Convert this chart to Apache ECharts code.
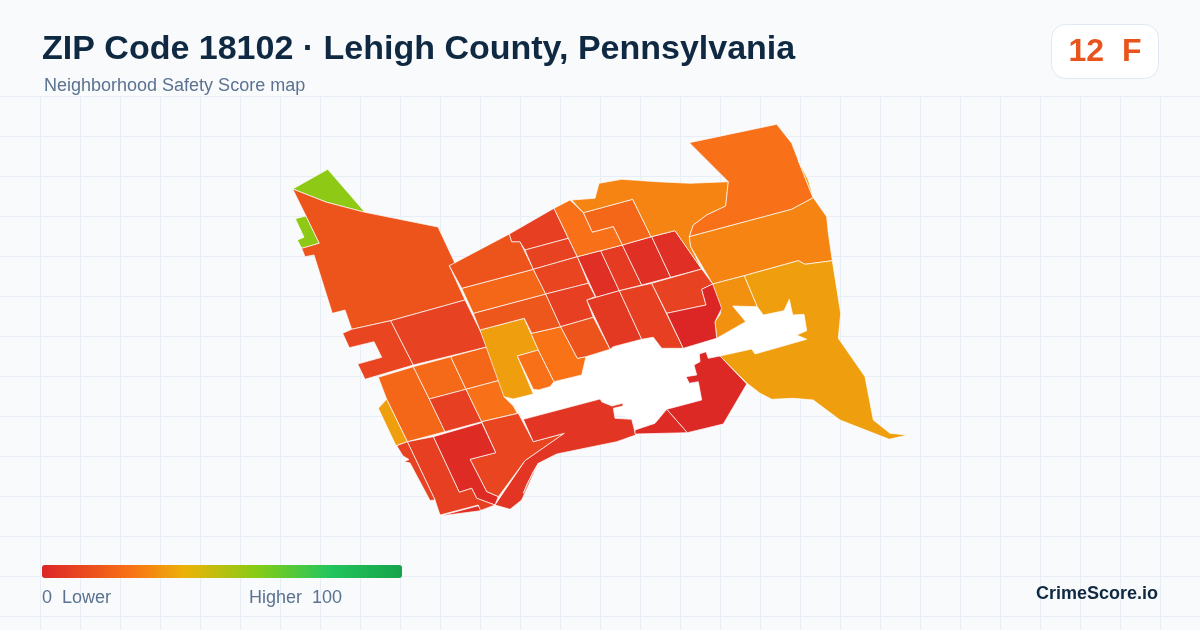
<!DOCTYPE html>
<html>
<head>
<meta charset="utf-8">
<style>html,body{margin:0;padding:0;background:#f8fafc}#chart{width:1200px;height:630px}</style>
<script src="https://cdn.jsdelivr.net/npm/echarts@6/dist/echarts.min.js"></script>
</head>
<body>
<div id="chart"></div>
<script>
// block group names, scores and outlines (outline units = picture pixels)
var tractNames = ['gap', 'n1', 'n2', 'a', 'b', 'c', 'd', 'e', 'f', 'g', 'h', 'i', 'j', 'k', 'l', 'm', 'n', 'p', 'q', 'r', 's', 't', 'u', 'v', 'w', 'x', 'y', 'z', 'aa', 'ab', 'ac', 'ad', 'ae', 'af', 'ag', 'ah', 'ah2', 'ai', 'aj', 'ak', 'al', 'am', 'ao', 'ap', 'ar', 'as', 'av', 'aw'];
var tractScores = [null, 58, 58, 15, 10, 9, 21, 22, 35, 21, 8, 24, 10, 2, 8, 9, 3, 5, 22, 35, 24, 25, 16, 21, 15, 8, 9, 10, 3, 7, 3, 3, 21, 29, 24, 24, 35, 29, 32, 35, 1, 2, 6, 8, 9, 0, 8, 15];
var tractOutlines = [
  [503.3,396.7, 513.3,398, 533.3,394, 538.3,390, 550,386.7, 554,381.7, 581.7,375, 586,356.7, 610,349.3, 613.3,346.7, 653.3,337.3, 661.7,348.3, 683.3,348.3, 716.7,338.3, 745.7,321.7, 732.7,306, 757.3,306.7, 763.3,315, 784,310.7, 789.3,299.3, 792.7,315, 804,314.3, 806.7,330.7, 796.7,335, 806.7,339.3, 755,354, 751.7,349, 720,356, 708.3,358.3, 706,351.7, 699.3,354, 700,361.7, 694,365, 696.7,375, 686,376.7, 689.3,383.3, 698.3,381.7, 701.7,400, 666.7,409.3, 655,423.3, 635,430, 631.7,418.3, 613.3,411, 621.7,404, 611.7,406, 600,399, 523.3,419.3, 515,403.3, 503.3,401],
  [292.7,189, 327.7,169.3, 365,212.3, 326.7,202.3],
  [295.3,218.7, 306,216, 319.3,243.3, 301.7,248.3, 297.3,240, 304,237.3],
  [292.7,189, 326.7,202.3, 365,212.3, 438,227, 455,263.3, 449.3,265.7, 465,300, 390.7,320.7, 351.7,329.3, 345,310, 332.3,313.3, 314,255, 305,256.7, 301.7,248.3, 319.3,243.3, 306,216],
  [390.7,320.7, 413.3,365, 365,379.3, 357.7,364, 381.7,357.3, 374,341.7, 349.3,347.7, 342.7,333.3, 351.7,329.3],
  [390.7,320.7, 465,300, 488,346.7, 413.3,365],
  [378.3,377.3, 413.3,366.7, 429.3,399, 445,431.7, 407.3,441.7, 386.7,399.3],
  [413.3,366.7, 450.7,356.7, 466,389.3, 429.3,399],
  [386.7,399.3, 378.3,408.3, 396,445.7, 407.3,441.7],
  [450.7,356.7, 488,346.7, 503.3,379.3, 466,389.3],
  [429.3,399, 466,389.3, 481.7,421.7, 445,431.7],
  [466,389.3, 503.3,379.3, 504,396.7, 513.3,406, 517.3,413.3, 481.7,421.7],
  [481.7,421.7, 518.3,413.3, 533.3,441.7, 564.3,433.3, 525,460.7, 498.3,496.7, 486.7,491.7, 470,459.3, 495.7,452.7],
  [433.3,436.7, 481.7,422.7, 495.7,452.7, 470,459.3, 486.7,491.7, 498.3,496.7, 495,505, 476.7,498.3, 471.7,488.3, 459.3,492.3],
  [407.3,441.7, 433.3,436.7, 459.3,492.3, 471.7,488.3, 476.7,498.3, 495,505, 480,510.7, 478.3,505, 440,515, 435,500],
  [396.7,445.7, 407.3,441.7, 435,500, 430,500.5, 410,463, 404,461.5, 409,459.5, 403,456],
  [440,516, 478.3,505.7, 480.7,510.7],
  [523.3,419.3, 600,399, 602,402, 612,406, 622.7,403.3, 623,406, 613.3,408.3, 615,418.3, 631.7,419.3, 635.7,435, 616.7,441.7, 556.7,454, 538.3,463.3, 521.7,500, 510,509.3, 495,505, 525,460.7, 564.3,433.3, 533.3,441.7],
  [538.3,463.3, 533,472, 523.3,493.3, 527,484],
  [480,330, 524.3,318.3, 538.3,350, 517.3,356, 533.3,394, 513.3,399, 504,396.7],
  [517.3,356, 538.3,350, 554,381.7, 550,386.7, 538.3,390, 533.3,389.3],
  [524.3,318.3, 531.7,333.3, 560.7,326.7, 577.3,358.3, 586,356.7, 581.7,375, 554,381.7, 538.3,350],
  [473.3,313.3, 545.7,294, 560.7,326.7, 531.7,333.3, 524.3,318.3, 480,330],
  [461.7,288.3, 533.3,269.3, 545.7,294, 473.3,313.3],
  [449.3,265.7, 509.3,234, 511.7,241.7, 520,241.7, 533.3,269.3, 461.7,288.3],
  [509.3,234, 554,208.3, 568.3,238.3, 525,250, 520,241.7, 511.7,241.7],
  [525,250, 568.3,238.3, 577.3,256.7, 533.3,269.3],
  [533.3,269.3, 577.3,256.7, 588.3,283.3, 545.7,294],
  [577.3,256.7, 600.7,250.7, 619.3,290.7, 596,297.3],
  [600.7,250.7, 622.3,245, 641.7,285, 619.3,290.7],
  [622.3,245, 651.7,236.7, 670.7,277.3, 641.7,285],
  [651.7,236.7, 675,230.7, 701.7,269, 670.7,277.3],
  [583.3,212.7, 632.7,199.3, 651,236.7, 622.3,245, 613.3,226.7, 592.3,232.3],
  [571.7,200, 595,198.3, 599,183.3, 621.7,179.3, 656.7,181.7, 690,183.3, 728.3,181.7, 725.7,206, 706.7,215, 693.3,225, 689.3,236.7, 690.7,246.7, 701.7,269, 675,230.7, 651,236.7, 632.7,199.3, 583.3,212.7],
  [554,208.3, 570,200, 583.3,212.7, 592.3,232.3, 613.3,226.7, 622.3,245, 577.3,256.7],
  [689.3,142.7, 776.7,124.3, 791.7,143.3, 798.5,161, 810,190, 813.3,197.7, 791.7,209.3, 689.3,236.7, 693.3,225, 706.7,215, 725.7,206, 728.3,181.7],
  [798.5,161, 808.3,180, 813.3,197.7, 810,190],
  [689.3,236.7, 791.7,209.3, 813.3,197.7, 826.7,216.7, 828.3,233, 832.3,260.7, 805,264.3, 798.3,260.7, 744.3,275.7, 712.7,284, 690.7,246.7],
  [712.7,284, 744.3,275.7, 757.3,306.7, 732.7,306, 745.7,321.7, 716.7,338.3, 715,321.7, 720.7,313.3],
  [744.3,275.7, 798.3,260.7, 805,264.3, 832.3,260.7, 840.7,313.3, 838.3,338.3, 865,376.7, 873.3,420, 890,433.3, 907.3,435, 889.3,439.3, 840,420, 813.3,400, 793.3,398.3, 771.7,399.3, 760,393.3, 746.7,383, 720,356, 751.7,349, 755,354, 806.7,339.3, 796.7,335, 806.7,330.7, 804,314.3, 792.7,315, 789.3,299.3, 784,310.7, 763.3,315, 757.3,306.7],
  [720,356, 708.3,358.3, 706,351.7, 699.3,354, 700,361.7, 694,365, 696.7,375, 686,376.7, 689.3,383.3, 698.3,381.7, 701.7,400, 666.7,409.3, 687.3,432.7, 723.3,424, 746.7,384],
  [666.7,409.3, 687.3,432.7, 635,434, 635,430, 655,423.3],
  [586.7,300, 619.3,290.7, 641.7,339.3, 613.3,346.7, 610,349.3],
  [619.3,290.7, 651.7,283.3, 683.3,348.3, 661.7,348.3, 653.3,337.3, 641.7,339.3],
  [651.7,283.3, 701.7,269, 712.7,284, 701.7,289.3, 706,305, 666.7,313.3],
  [666.7,313.3, 706,305, 701.7,289.3, 712.7,284, 721.7,308.3, 715,321.7, 716.7,338.3, 683.3,348.3],
  [545.7,294, 588.3,283.3, 595.3,296.7, 586.7,300, 593.3,317.3, 560.7,326.7],
  [560.7,326.7, 593.3,317.3, 610,349.3, 586,356.7, 577.3,358.3]
];

// colour ramp of the legend
var rampStops = [0, 25, 40, 60, 80, 100];
var rampColors = ['#dc2626', '#f97316', '#eab308', '#84cc16', '#22c55e', '#16a34a'];

var titleText = 'ZIP Code 18102 \u00b7 Lehigh County, Pennsylvania';
var subtitleText = 'Neighborhood Safety Score map';
var badgeScore = '12  F';
var legendLow = '0  Lower';
var legendHigh = 'Higher  100';
var brandText = 'CrimeScore.io';

// visualMap spaces its colours evenly, so resample the ramp every 5 points
var ramp = [];
for (var v = 0; v <= 100; v += 5) {
    var k = 0;
    while (k < rampStops.length - 2 && v > rampStops[k + 1]) k++;
    var t = (v - rampStops[k]) / (rampStops[k + 1] - rampStops[k]);
    ramp.push(echarts.color.lerp(t, [rampColors[k], rampColors[k + 1]]));
}

var features = tractNames.map(function (name, i) {
    var ring = [], flat = tractOutlines[i];
    for (var j = 0; j < flat.length; j += 2) ring.push([flat[j], flat[j + 1]]);
    ring.push(ring[0]);
    return { type: 'Feature', properties: { name: name }, geometry: { type: 'Polygon', coordinates: [ring] } };
});
echarts.registerMap('zip18102', { type: 'FeatureCollection', features: features });

var seriesData = tractNames.map(function (name, i) {
    return tractScores[i] === null ? { name: name } : { name: name, value: tractScores[i] };
});

// faint background grid
var bgLines = [];
for (var x = 40.5; x < 1200; x += 40) {
    bgLines.push({ type: 'line', silent: true, z: 0, shape: { x1: x, y1: 96, x2: x, y2: 630 }, style: { stroke: '#e8eef5', lineWidth: 1 } });
}
for (var y = 96.5; y < 630; y += 40) {
    bgLines.push({ type: 'line', silent: true, z: 0, shape: { x1: 0, y1: y, x2: 1200, y2: y }, style: { stroke: '#e8eef5', lineWidth: 1 } });
}

var chart = echarts.init(document.getElementById('chart'));
chart.setOption({
    animation: false,
    backgroundColor: '#f8fafc',
    textStyle: { fontFamily: 'Liberation Sans' },
    visualMap: {
        type: 'continuous',
        min: 0,
        max: 100,
        orient: 'horizontal',
        left: 42,
        top: 565,
        padding: 0,
        itemWidth: 13,
        itemHeight: 360,
        borderRadius: 0,
        calculable: false,
        realtime: false,
        hoverLink: false,
        showLabel: false,
        text: null,
        inRange: { color: ramp },
        seriesIndex: 0
    },
    series: [{
        type: 'map',
        map: 'zip18102',
        projection: {
            project: function (p) { return p; },
            unproject: function (p) { return p; }
        },
        boundingCoords: [[0, 0], [1200, 630]],
        aspectScale: 1,
        left: 0,
        top: 0,
        width: 1200,
        height: 630,
        roam: false,
        silent: true,
        label: { show: false },
        itemStyle: { areaColor: '#ffffff', borderColor: '#ffffff', borderWidth: 0.7 },
        data: seriesData
    }],
    graphic: bgLines.concat([
        { type: 'text', silent: true, left: 42, top: 33, style: { text: titleText, font: 'bold 34px "Liberation Sans"', fill: '#0f2942' } },
        { type: 'text', silent: true, left: 44, top: 77, style: { text: subtitleText, font: '18px "Liberation Sans"', fill: '#5b7290' } },
        { type: 'rect', silent: true, shape: { x: 1051.5, y: 24.5, width: 107, height: 54, r: 14 }, style: { fill: '#ffffff', stroke: '#e2e8f0', lineWidth: 1 } },
        { type: 'text', silent: true, x: 1105, y: 52, style: { text: badgeScore, font: 'bold 32px "Liberation Sans"', fill: '#e8541c', align: 'center', verticalAlign: 'middle' } },
        { type: 'text', silent: true, left: 42, top: 589, style: { text: legendLow, font: '18px "Liberation Sans"', fill: '#5b7290' } },
        { type: 'text', silent: true, left: 249, top: 589, style: { text: legendHigh, font: '18px "Liberation Sans"', fill: '#5b7290' } },
        { type: 'text', silent: true, right: 42, top: 585, style: { text: brandText, font: 'bold 18px "Liberation Sans"', fill: '#0f2942' } }
    ])
});
</script>
</body>
</html>
